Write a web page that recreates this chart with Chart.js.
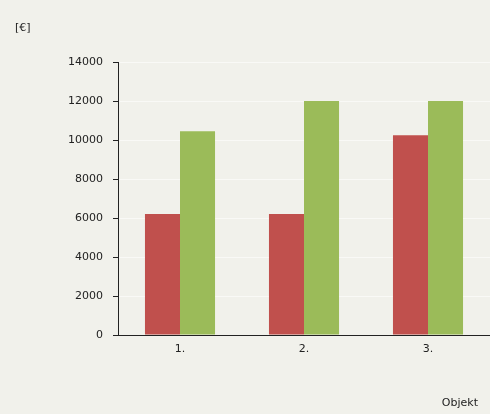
<!DOCTYPE html>
<html><head><meta charset="utf-8">
<script src="https://cdn.jsdelivr.net/npm/chart.js@4"></script>
<style>html,body{margin:0;padding:0;background:#f1f1eb;}#wrap{width:490px;height:414px;}</style>
</head><body><div id="wrap"><canvas id="c" width="490" height="414"></canvas></div>
<script>
const categories = ["1.", "2.", "3."];
const seriesRed = [6200, 6200, 10250];
const seriesGreen = [10450, 12000, 12000];
const yTicks = [0, 2000, 4000, 6000, 8000, 10000, 12000, 14000];
const unitLabel = "[€]";
const xTitle = "Objekt";

const FONT = "'DejaVu Sans', sans-serif";
const bgPlugin = {
  id: 'bg',
  beforeDraw(chart) {
    const ctx = chart.ctx;
    ctx.save();
    ctx.fillStyle = '#f1f1eb';
    ctx.fillRect(0, 0, chart.width, chart.height);
    ctx.restore();
  },
  afterDraw(chart) {
    const ctx = chart.ctx;
    ctx.save();
    ctx.fillStyle = '#222';
    ctx.font = "11px " + FONT;
    ctx.textBaseline = 'middle';
    ctx.textAlign = 'left';
    ctx.fillText(unitLabel, 15, 28);
    ctx.textAlign = 'right';
    ctx.fillText(xTitle, 478, 403);
    ctx.restore();
  }
};

new Chart(document.getElementById('c'), {
  type: 'bar',
  data: {
    labels: categories,
    datasets: [
      { data: seriesRed, backgroundColor: '#c0504d', borderWidth: 0 },
      { data: seriesGreen, backgroundColor: '#9bbb59', borderWidth: 0 }
    ]
  },
  options: {
    responsive: false,
    animation: false,
    devicePixelRatio: 1,
    layout: { padding: { left: 0, right: 0, top: 62, bottom: 0 } },
    datasets: { bar: { categoryPercentage: 0.565, barPercentage: 1.0 } },
    plugins: { legend: { display: false }, tooltip: { enabled: false }, title: { display: false } },
    scales: {
      x: {
        grid: { display: false, drawTicks: false },
        border: { display: true, color: '#222', width: 1 },
        ticks: { color: '#222', font: { family: FONT, size: 11 }, padding: 8 },
        afterFit(s) { s.height = 79; }
      },
      y: {
        min: 0, max: 14000,
        afterBuildTicks(s) { s.ticks = yTicks.map(v => ({ value: v })); },
        grid: { color: 'rgba(255,255,255,0.55)', tickColor: '#222', tickLength: 5, drawOnChartArea: true },
        border: { display: true, color: '#222', width: 1 },
        ticks: { color: '#222', font: { family: FONT, size: 11 }, padding: 10, callback: v => String(v) },
        afterFit(s) { s.width = 118; }
      }
    }
  },
  plugins: [bgPlugin]
});
</script>
</body></html>
